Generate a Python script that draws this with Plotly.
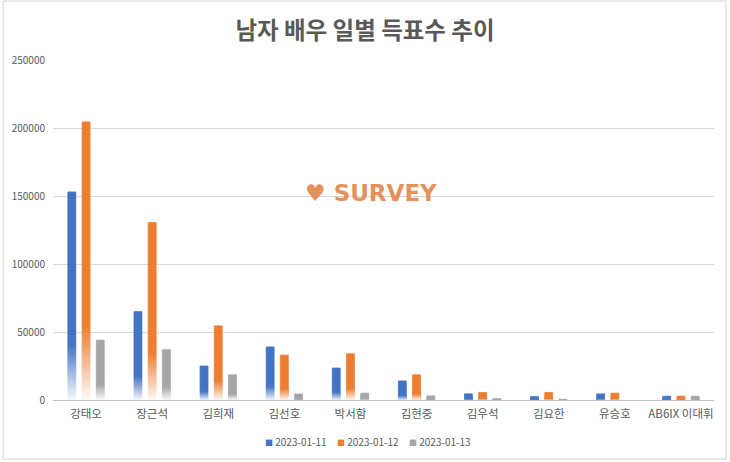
import plotly.graph_objects as go

categories = ["강태오", "장근석", "김희재", "김선호", "박서함", "김현중", "김우석", "김요한", "유승호", "AB6IX 이대휘"]
dates = ["2023-01-11", "2023-01-12", "2023-01-13"]
votes_0111 = [153000, 65000, 25000, 39000, 23500, 14000, 4500, 2500, 4500, 2800]
votes_0112 = [204500, 130500, 54500, 33000, 34000, 18500, 5500, 5500, 5000, 2800]
votes_0113 = [44000, 37000, 18500, 4400, 5000, 3000, 1000, 500, 0, 2800]
colors = ["#4472C4", "#ED7D31", "#A5A5A5"]

series = [votes_0111, votes_0112, votes_0113]
centers = [-0.215, 0.0, 0.215]
bw = 0.12
FADE = 0.27
N = 20

def hex2rgb(h):
    h = h.lstrip("#")
    return tuple(int(h[i:i+2], 16) for i in (0, 2, 4))

def part(vals, frac):
    return [v * frac if v > 0 else None for v in vals]

fig = go.Figure()
for s, (vals, col, c, name) in enumerate(zip(series, colors, centers, dates)):
    # solid upper part
    fig.add_trace(go.Bar(
        x=categories, y=part(vals, 1 - FADE), base=part(vals, FADE), name=name,
        marker=dict(color=col, line=dict(width=0.8, color=col)),
        width=bw, offset=c - bw / 2, showlegend=False,
    ))
    r, g, b = hex2rgb(col)
    # gradient segments towards white at the bottom
    for k in range(N):
        t = 1 - (k + 0.5) / N
        w = t * 0.97
        cc = "rgb(%d,%d,%d)" % (r + (255 - r) * w, g + (255 - g) * w, b + (255 - b) * w)
        fig.add_trace(go.Bar(
            x=categories, y=part(vals, FADE / N), base=[(v * FADE * k / N) for v in vals],
            marker=dict(color=cc, line=dict(width=0.8, color=cc)),
            width=bw, offset=c - bw / 2, showlegend=False, hoverinfo="skip",
        ))

W, H = 730, 462
ml, mr, mt, mb = 51, 16, 60, 62
pw, ph = W - ml - mr, H - mt - mb

def px_x(x):
    return (x - ml) / pw

def px_y(y):
    return (H - mb - y) / ph

legend_x = [295, 367, 439]
annotations = [dict(text="<b>♥ SURVEY</b>", x=px_x(370), y=px_y(193), xref="paper", yref="paper",
                    showarrow=False, font=dict(size=23, color="#E0874A", family="DejaVu Sans"), opacity=0.9)]
for name, col, lx in zip(dates, colors, legend_x):
    annotations.append(dict(
        text="<span style='color:%s;font-size:8px'>■</span> %s" % (col, name),
        x=px_x(lx), y=px_y(441), xref="paper", yref="paper", xanchor="center", yanchor="middle",
        showarrow=False, font=dict(size=10, color="#595959", family="Noto Sans CJK KR")))

fig.update_layout(
    width=W, height=H,
    margin=dict(l=ml, r=mr, t=mt, b=mb),
    barmode="overlay",
    showlegend=False,
    paper_bgcolor="white", plot_bgcolor="white",
    font=dict(family="Noto Sans CJK KR", color="#595959", size=10),
    title=dict(text="<b>남자 배우 일별 득표수 추이</b>", x=0.5, xanchor="center", y=1 - 31 / H, yanchor="middle",
               font=dict(size=23.5, color="#595959", family="Noto Sans CJK KR")),
    xaxis=dict(type="category", range=[-0.5, 9.5], showgrid=False, showline=True, linecolor="#BFBFBF",
               ticks="", tickfont=dict(size=11.5, color="#595959"), ticklabelstandoff=3),
    yaxis=dict(range=[0, 250000], dtick=50000, showgrid=True, gridcolor="#D9D9D9", zeroline=False,
               tickfont=dict(size=10, color="#595959"), tickformat="d", ticklabelstandoff=7),
    annotations=annotations,
    shapes=[dict(type="rect", xref="paper", yref="paper",
                 x0=px_x(1), x1=px_x(W - 4), y0=px_y(H - 3), y1=px_y(1),
                 line=dict(color="#D0D0D0", width=1), layer="below")],
)
fig.write_html("out.html")
